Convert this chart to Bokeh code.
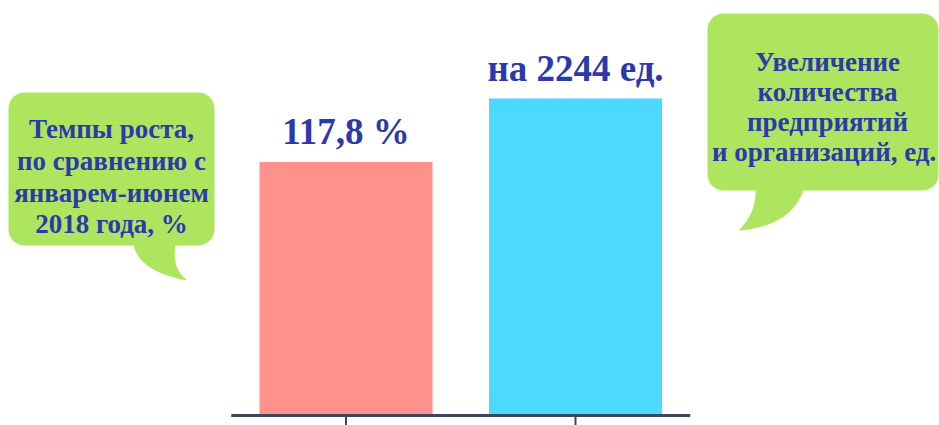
import numpy as np
from bokeh.plotting import figure
from bokeh.models import Range1d, ColumnDataSource
from bokeh.core.properties import value
from bokeh.embed import file_html
from bokeh.resources import INLINE

# ---- data ----
categories = ["Темпы роста", "Увеличение количества"]
bar_heights = [80, 100]          # relative bar heights
bar_labels = ["117,8 %", "на 2244 ед."]
bar_colors = ["#FF918D", "#4DD8FF"]
left_note = ["Темпы роста,", "по сравнению с", "январем-июнем", "2018 года, %"]
right_note = ["Увеличение", "количества", "предприятий", " и организаций, ед."]

# ---- layout (pixel geometry of the page) ----
W, H = 939, 425
M = 0
X0, DX = 345.5, 229.5      # page px of first category centre, px per category
Y0, DY = 415.0, 3.17       # page px of value 0, px per unit

def dx(px):
    return (px - X0) / DX

def dy(py):
    return (Y0 - py) / DY

p = figure(width=W, height=H, output_backend="svg", toolbar_location=None,
           x_range=Range1d(dx(M), dx(M + W)), y_range=Range1d(dy(M + H), dy(M)),
           min_border=0, outline_line_color=None)
p.axis.visible = False
p.grid.visible = False
p.background_fill_color = "white"
p.border_fill_color = "white"

TXT = "#2B39AD"
GREEN = "#ADE55E"
FONT = value("Liberation Serif")

def qbez(p0, c, p1, n=14):
    t = np.linspace(0, 1, n)
    return [((1 - s) ** 2 * p0[0] + 2 * (1 - s) * s * c[0] + s ** 2 * p1[0],
             (1 - s) ** 2 * p0[1] + 2 * (1 - s) * s * c[1] + s ** 2 * p1[1]) for s in t]

def bubble(x0, y0, x1, y1, r, tail):
    pts = []
    def arc(cx, cy, a0, a1):
        for a in np.linspace(a0, a1, 10):
            pts.append((cx + r * np.cos(a), cy + r * np.sin(a)))
    arc(x0 + r, y0 + r, np.pi, 1.5 * np.pi)
    arc(x1 - r, y0 + r, 1.5 * np.pi, 2 * np.pi)
    arc(x1 - r, y1 - r, 0, 0.5 * np.pi)
    pts.extend(tail)
    arc(x0 + r, y1 - r, 0.5 * np.pi, np.pi)
    xs = [dx(a) for a, b in pts]
    ys = [dy(b) for a, b in pts]
    return xs, ys

# left bubble, tail curving right
tail_l = qbez((175, 245), (171, 268), (187, 280)) + qbez((187, 280), (140, 272), (133, 245))
lx, ly = bubble(8, 92, 214, 245, 16, tail_l)
# right bubble, tail curving left
tail_r = qbez((803, 190), (790, 226), (738, 230)) + qbez((738, 230), (756, 212), (755, 190))
rx, ry = bubble(707, 13, 938, 190, 16, tail_r)
p.patches(xs=[lx, rx], ys=[ly, ry], fill_color=GREEN, line_color=None)

# bars
src = ColumnDataSource(dict(x=list(range(len(categories))), top=bar_heights,
                            color=bar_colors, label=bar_labels, cat=categories))
p.vbar(x="x", top="top", bottom=0, width=173 / DX, fill_color="color",
       line_color=None, source=src)
p.text(x="x", y="top", text="label", source=src, y_offset=-30,
       text_font=FONT, text_font_style="bold", text_font_size="37px",
       text_color=TXT, text_align="center", text_baseline="alphabetic")

# axis line and ticks
n = len(categories)
p.segment(x0=list(range(n)), y0=[0] * n, x1=list(range(n)), y1=[dy(M + H)] * n,
          line_color="#3B4663", line_width=2)
p.segment(x0=[-0.5], y0=[0], x1=[n - 0.5], y1=[0], line_color="#3B4663", line_width=3)

# notes
p.text(x=[dx(111)] * 4, y=[dy(b) for b in (128, 160, 192, 223)], text=left_note,
       text_font=FONT, text_font_style="bold", text_font_size="27px",
       text_color=TXT, text_align="center", text_baseline="alphabetic")
p.text(x=[dx(827)] * 4, y=[dy(b) for b in (61, 91, 121, 151)], text=right_note,
       text_font=FONT, text_font_style="bold", text_font_size="27px",
       text_color=TXT, text_align="center", text_baseline="alphabetic")

open("out.html", "w").write(file_html(p, INLINE))
